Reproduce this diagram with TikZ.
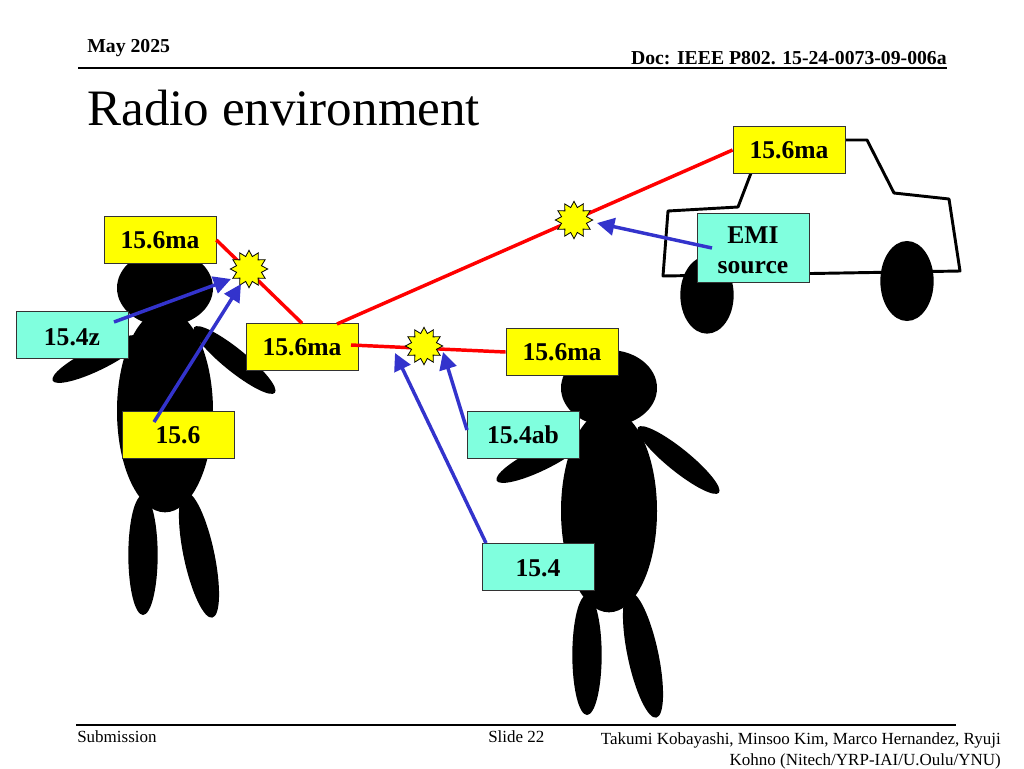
\documentclass[tikz,border=0pt]{standalone}
\usepackage{fontspec}
\setmainfont{Liberation Serif}
\usetikzlibrary{calc}
\usetikzlibrary{positioning}
\usetikzlibrary{arrows.meta}
\usetikzlibrary{shapes.geometric}
\definecolor{radioBlue}{RGB}{51,51,204}
\definecolor{radioRed}{RGB}{255,0,0}
\definecolor{radioAqua}{RGB}{128,255,222}
\definecolor{radioYellow}{RGB}{255,255,0}
\tikzset{
	labelbox/.style={draw=black!80, line width=0.6pt, minimum width=84pt, minimum height=35pt, inner sep=0pt, align=center, font=\fontsize{19.2}{23}\selectfont\bfseries},
	wearable/.style={labelbox, fill=radioYellow},
	narrowband/.style={labelbox, fill=radioAqua},
	burst/.style={star, star points=12, star point ratio=1.45, minimum size=28pt, inner sep=0pt, draw=black, line width=0.6pt, fill=radioYellow},
	redlink/.style={radioRed, line width=2.6pt},
	interferer/.style={radioBlue, line width=2.6pt, -{Triangle[length=13pt, width=13pt]}},
	slidetext/.style={inner sep=0pt, font=\fontsize{12.75}{15}\selectfont},
	pics/person/.style={code={
		\fill (165,288) ellipse [x radius=36pt, y radius=28.5pt];
		\fill (165,411) ellipse [x radius=36pt, y radius=76pt];
		\fill (97,359) ellipse [x radius=37pt, y radius=8.5pt, rotate=26];
		\fill (234.5,360) ellipse [x radius=39pt, y radius=8.5pt, rotate=-39];
		\fill (143,555) ellipse [x radius=11pt, y radius=45pt];
		\fill (199,555) ellipse [x radius=48pt, y radius=11.5pt, rotate=-78];
	}},
}

\begin{document}
\begin{tikzpicture}[>=stealth, x=0.75pt, y=-0.75pt]
	\useasboundingbox (0,0) rectangle (1024,768);

	% slide frame
	\coordinate (headL) at (78,68);
	\coordinate (headR) at (947,68);
	\coordinate (footL) at (76,725);
	\coordinate (footR) at (956,725);
	\draw[line width=1.1pt] (headL) -- (headR);
	\draw[line width=1.1pt] (footL) -- (footR);
	\node[anchor=base west, inner sep=0pt, font=\fontsize{14.8}{17}\selectfont\bfseries] (date) at (87,52) {May 2025};
	\node[anchor=base east, inner sep=0pt, font=\fontsize{14.8}{17}\selectfont\bfseries] (doc) at (947,64) {Doc: IEEE P802. 15-24-0073-09-006a};
	\node[anchor=base west, inner sep=0pt, font=\fontsize{38.3}{42}\selectfont] (title) at (87,125) {Radio environment};
	\node[slidetext, anchor=base west] (sub) at (77,742) {Submission};
	\node[slidetext, anchor=base west] (slide) at (488,742) {Slide 22};
	\node[slidetext, anchor=base east] (auth1) at (1001,744) {Takumi Kobayashi, Minsoo Kim, Marco Hernandez, Ryuji};
	\node[slidetext, anchor=base east] (auth2) at (1001,765) {Kohno (Nitech/YRP-IAI/U.Oulu/YNU)};

	% people and car
	\pic at (0,0) {person};
	\pic at (444,100) {person};
	\fill (707,295) ellipse [x radius=20pt, y radius=29pt];
	\fill (907,281) ellipse [x radius=20pt, y radius=30pt];
	\draw[line width=2.2pt, line join=round] (663,276) -- (668,211) -- (738,207) -- (751,173) -- (765,140) -- (867,140) -- (894,193) -- (949,199) -- (960,271) -- cycle;

	% labels
	\node[wearable] (maCar) at (789,150) {15.6ma};
	\node[wearable] (maHead) at (160,240) {15.6ma};
	\node[wearable] (maMid) at (302,347) {15.6ma};
	\node[wearable] (maRight) at (562,352) {15.6ma};
	\node[wearable] (plain) at (178,435) {15.6};
	\node[narrowband, text height=16pt] (zig) at (72,335) {15.4z};
	\node[narrowband] (ab) at (523,435) {15.4ab};
	\node[narrowband, text height=15pt] (low) at (538,567) {15.4};
	\node[narrowband, minimum height=52pt] (emi) at (753,248) {\rule{0pt}{16pt}EMI\\source};

	\coordinate (maMidTop) at (337,324);
	\coordinate (maMidIn) at (351,345);
	\draw[redlink] (maHead.east) -- (maMid.north);
	\draw[redlink] (maMidTop) -- (maCar.west);
	\draw[redlink] (maMidIn) -- (maRight.west);

	\node[burst] (hitHead) at (249,269) {};
	\node[burst] (hitCar) at (574,220) {};
	\node[burst] (hitMid) at (424,346) {};

	% free ends of the blue arrows
	\coordinate (zigS) at (114,322);
	\coordinate (zigT) at (231,279);
	\coordinate (plainS) at (154,422);
	\coordinate (plainT) at (241,284);
	\coordinate (abS) at (467,430);
	\coordinate (abT) at (443,352);
	\coordinate (lowS) at (486,543);
	\coordinate (lowT) at (395,353);
	\coordinate (emiS) at (712,248);
	\coordinate (emiT) at (597,223);
	\draw[interferer] (zigS) -- (zigT);
	\draw[interferer] (plainS) -- (plainT);
	\draw[interferer] (abS) -- (abT);
	\draw[interferer] (lowS) -- (lowT);
	\draw[interferer] (emiS) -- (emiT);
\end{tikzpicture}
\end{document}
